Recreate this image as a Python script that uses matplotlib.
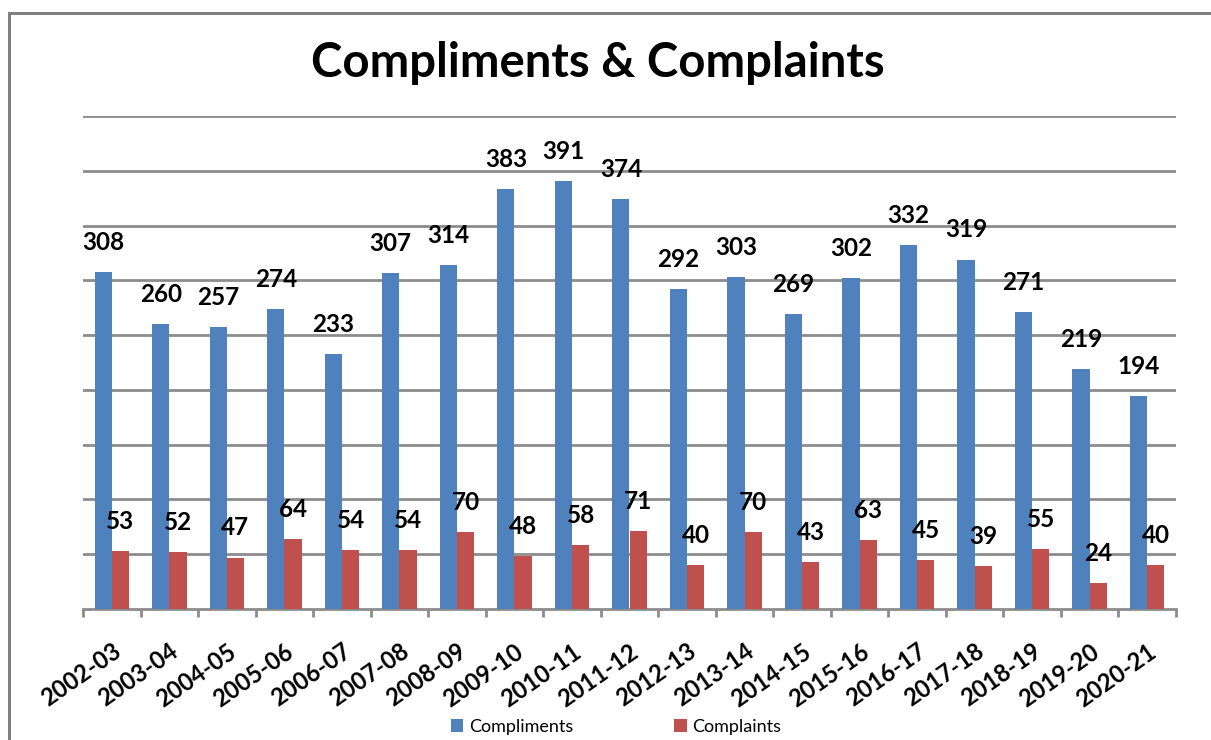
import matplotlib.pyplot as plt
from matplotlib.patches import Rectangle
import numpy as np

years = ["2002-03", "2003-04", "2004-05", "2005-06", "2006-07", "2007-08",
         "2008-09", "2009-10", "2010-11", "2011-12", "2012-13", "2013-14",
         "2014-15", "2015-16", "2016-17", "2017-18", "2018-19", "2019-20",
         "2020-21"]
compliments = [308, 260, 257, 274, 233, 307, 314, 383, 391, 374, 292, 303,
               269, 302, 332, 319, 271, 219, 194]
complaints = [53, 52, 47, 64, 54, 54, 70, 48, 58, 71, 40, 70, 43, 63, 45,
              39, 55, 24, 40]

plt.rcParams['font.family'] = ['Lato', 'DejaVu Sans']

fig = plt.figure(figsize=(12.11, 7.4), dpi=100)
fig.patches.append(Rectangle((9 / 1211, -0.05), 1.1, 1 - 13 / 740 + 0.05,
                             transform=fig.transFigure, fill=False,
                             edgecolor='#808080', linewidth=2.2))

ax = fig.add_axes([83 / 1211, 1 - 609 / 740, (1176 - 83) / 1211, (609 - 116) / 740])

x = np.arange(len(years))
w = 0.3
b1 = ax.bar(x - w / 2, compliments, w, color='#4F81BD', label='Compliments', zorder=3)
b2 = ax.bar(x + w / 2, complaints, w, color='#C0504D', label='Complaints', zorder=3)

for bars, vals in [(b1, compliments), (b2, complaints)]:
    for r, v in zip(bars, vals):
        ax.annotate(str(v), (r.get_x() + r.get_width() / 2, v),
                    xytext=(0, 13), textcoords='offset points',
                    ha='center', va='bottom', fontsize=17.5, fontweight='bold')

ax.set_xlim(-0.5, len(years) - 0.5)
ax.set_ylim(0, 450)
ax.set_yticks(np.arange(50, 451, 50))
ax.yaxis.grid(True, color='#8c8c8c', linewidth=2)
ax.set_axisbelow(True)
ax.tick_params(axis='y', left=False, labelleft=False)

ax.set_xticks(x)
ax.set_xticklabels(years, rotation=35, ha='right', rotation_mode='anchor',
                   fontsize=17, fontweight='bold')
ax.set_xticks(np.arange(-0.5, len(years)), minor=True)
ax.tick_params(axis='x', which='major', length=0, pad=22)
ax.tick_params(axis='x', which='minor', length=6, width=2, color='#8c8c8c')

for s in ['top', 'right', 'left']:
    ax.spines[s].set_visible(False)
ax.spines['bottom'].set_color('#8c8c8c')
ax.spines['bottom'].set_linewidth(2)

fig.text(598 / 1211, 1 - 63 / 740, "Compliments & Complaints", ha='center',
         va='center', fontsize=34, fontweight='bold')

fig.legend(handles=[b1, b2], loc='center', bbox_to_anchor=(616 / 1211, 1 - 727 / 740),
           ncol=2, frameon=False, fontsize=13, handlelength=0.7, handleheight=0.7,
           columnspacing=5.6, handletextpad=0.3)

fig.savefig('out.png', dpi=100)
